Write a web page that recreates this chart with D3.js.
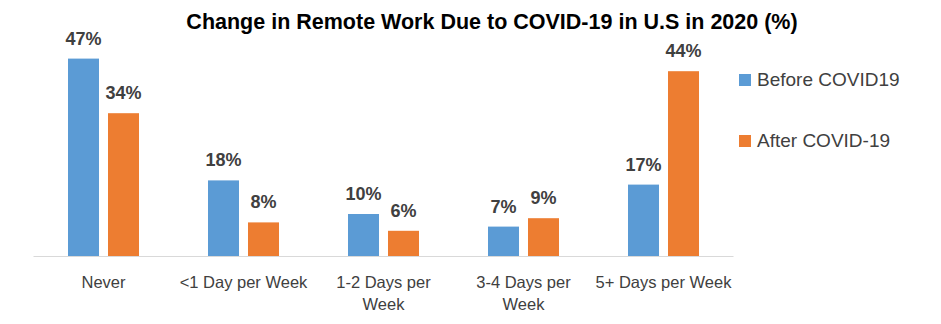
<!DOCTYPE html>
<html><head><meta charset="utf-8">
<script src="https://cdn.jsdelivr.net/npm/d3@7"></script>
<style>body{margin:0;background:#fff}svg{display:block}</style>
</head><body>
<svg id="c" width="941" height="324"></svg>
<script>
const categories = ["Never", "<1 Day per Week", "1-2 Days per\nWeek", "3-4 Days per\nWeek", "5+ Days per Week"];
const seriesNames = ["Before COVID19", "After COVID-19"];
const before = [47, 18, 10, 7, 17];
const after = [34, 8, 6, 9, 44];
const colors = ["#5B9BD5", "#ED7D31"];
const title = "Change in Remote Work Due to COVID-19 in U.S in 2020 (%)";

const svg = d3.select("#c");
const font = "'Liberation Sans', Arial, sans-serif";
const baseY = 256, left = 33.5, right = 733.5;
const x = d3.scaleBand().domain(categories).range([left, right]);
const y = d3.scaleLinear().domain([0, 50]).range([baseY, baseY - 210]);

svg.append("text").attr("x", 492).attr("y", 29).attr("text-anchor", "middle")
  .attr("font-family", font).attr("font-weight", "bold").attr("font-size", 21.5)
  .attr("fill", "#000").text(title);

svg.append("line").attr("x1", left).attr("x2", right).attr("y1", baseY + 0.5).attr("y2", baseY + 0.5)
  .attr("stroke", "#d9d9d9").attr("stroke-width", 1);

const data = categories.map((c, i) => ({c, vals: [before[i], after[i]]}));
const g = svg.selectAll("g.cat").data(data).join("g")
  .attr("transform", d => `translate(${x(d.c) + x.bandwidth()/2 - 35.5},0)`);
g.each(function(d) {
  const gg = d3.select(this);
  seriesNames.forEach((s, j) => {
    const v = d.vals[j];
    const bw = 31;
    const bx = j === 0 ? 0 : 40;
    gg.append("rect").attr("x", bx).attr("width", bw).attr("y", y(v)).attr("height", baseY - y(v)).attr("fill", colors[j]);
    gg.append("text").attr("x", bx + bw/2).attr("y", y(v) - 14).attr("text-anchor", "middle")
      .attr("font-family", font).attr("font-weight", "bold").attr("font-size", 18)
      .attr("fill", "#404040").text(v + "%");
  });
});

const xAxis = svg.append("g");
categories.forEach(c => {
  const lines = c.split("\n");
  const t = xAxis.append("text").attr("text-anchor", "middle").attr("font-family", font)
    .attr("font-size", 16.5).attr("fill", "#404040");
  lines.forEach((l, k) => t.append("tspan").attr("x", x(c) + x.bandwidth()/2).attr("y", 288 + k*22).text(l));
});

const leg = svg.append("g");
seriesNames.forEach((s, j) => {
  const ly = 86 + j*61;
  leg.append("rect").attr("x", 739).attr("y", ly - 12).attr("width", 12).attr("height", 12).attr("fill", colors[j]);
  leg.append("text").attr("x", 757).attr("y", ly).attr("font-family", font).attr("font-size", 19)
    .attr("fill", "#404040").text(s);
});
</script>
</body></html>
